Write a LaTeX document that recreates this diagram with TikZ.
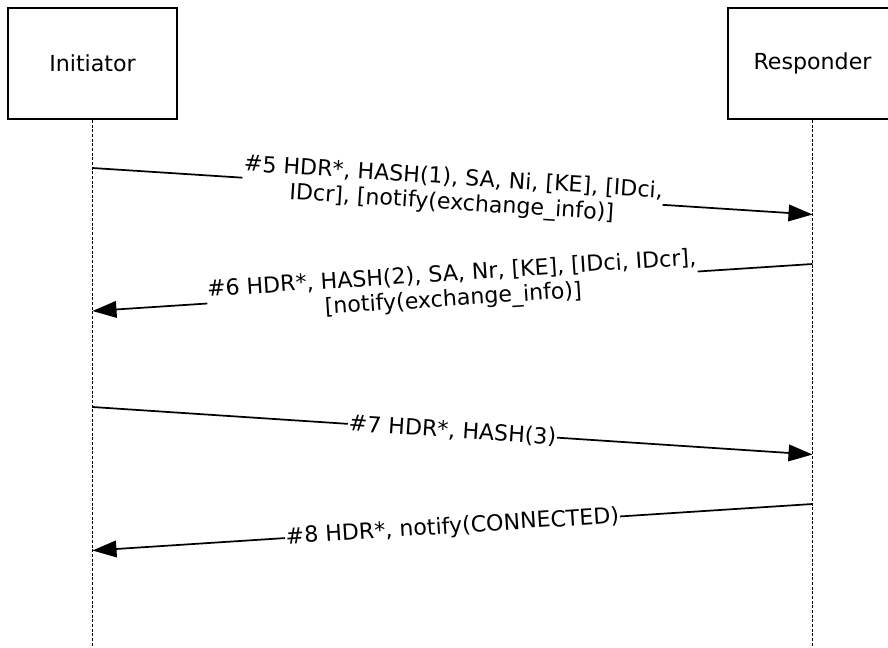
\documentclass[tikz,border=0pt]{standalone}
\usepackage{fontspec}
\setmainfont{DejaVu Sans}
\usetikzlibrary{arrows.meta}
\begin{document}
\begin{tikzpicture}[x=0.75pt,y=-0.75pt,
  actor/.style={draw, line width=1.3pt, minimum width=126.75pt, minimum height=83.6pt, inner sep=0pt, font=\fontsize{16.6}{19}\selectfont},
  life/.style={line width=1.2pt, dash pattern=on 2.2pt off 1.3pt},
  msg/.style={line width=1.3pt, -{Triangle[length=18pt,width=12.5pt]}},
  lbl/.style={sloped, fill=white, inner sep=0.5pt, align=center, font=\fontsize{16.6}{18.9}\selectfont}]
\useasboundingbox (0,0) rectangle (888,647);
\clip (0,0) rectangle (888,647);
\node[actor] (ini) at (92.5,63.5) {Initiator};
\node[actor] (res) at (812.5,63.5) {Responder};
\coordinate (iniEnd) at (92.5,647);
\coordinate (resEnd) at (812.5,647);
\draw[life] (ini.south) -- (iniEnd);
\draw[life] (res.south) -- (resEnd);
\coordinate (a5) at (92.5,168);
\coordinate (b5) at (812.5,214.5);
\coordinate (a6) at (812.5,264);
\coordinate (b6) at (92.5,311);
\coordinate (a7) at (92.5,407);
\coordinate (b7) at (812.5,454.5);
\coordinate (a8) at (812.5,504);
\coordinate (b8) at (92.5,550.5);
\draw[msg] (a5) -- node[lbl] {\#5 HDR*, HASH(1), SA, Ni, [KE], [IDci,\\IDcr], [notify(exchange\_info)]} (b5);
\draw[msg] (a6) -- node[lbl] {\#6 HDR*, HASH(2), SA, Nr, [KE], [IDci, IDcr],\\{}[notify(exchange\_info)]} (b6);
\draw[msg] (a7) -- node[lbl] {\#7 HDR*, HASH(3)} (b7);
\draw[msg] (a8) -- node[lbl] {\#8 HDR*, notify(CONNECTED)} (b8);
\end{tikzpicture}
\end{document}
